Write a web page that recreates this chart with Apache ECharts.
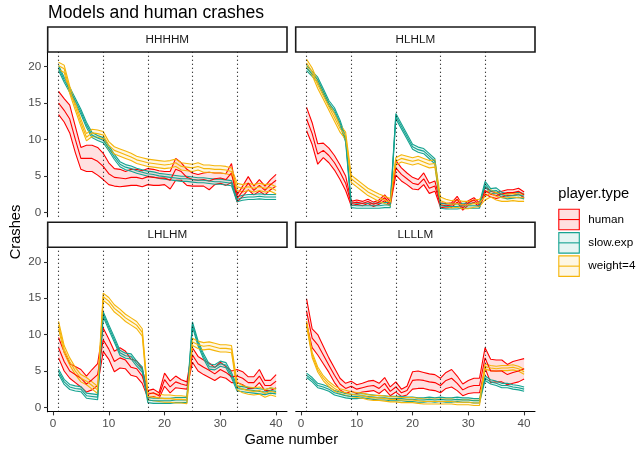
<!DOCTYPE html>
<html><head><meta charset="utf-8">
<script src="https://cdn.jsdelivr.net/npm/echarts@6/dist/echarts.min.js"></script>
<style>html,body{margin:0;padding:0;background:#fff}#c{width:636px;height:450px}</style>
</head><body><div id="c"></div>
<script>
// ---------- data ----------
const games = [1,2,3,4,5,6,7,8,9,10,11,12,13,14,15,16,17,18,19,20,21,22,23,24,25,26,27,28,29,30,31,32,33,34,35,36,37,38,39,40];
const panels = ['HHHHM','HLHLM','LHLHM','LLLLM'];
const playerTypes = ['human','slow.exp','weight=4'];
const vlines = [1,9,17,25,33];
const xTicks = [0,10,20,30,40];
const yTicks = [0,5,10,15,20];

// HHHHM
const hhhhmHumanMid = [15.0,14.0,12.8,10.0,7.4,7.4,7.4,7.0,6.3,5.3, 4.8,4.7,4.6,4.8,4.8,4.6,4.9,4.8,4.7,4.7, 4.4,5.9,5.6,4.8,4.5,4.4,4.5,4.3,4.6,4.7, 4.5,5.4,1.9,2.9,4.0,3.0,3.7,3.0,3.8,4.4];
const hhhhmHumanSe  = [1.6,1.6,1.9,1.8,1.5,1.8,1.8,1.9,1.8,1.5, 1.2,1.2,1.0,1.1,1.1,1.1,1.1,1.1,1.0,0.9, 1.2,1.5,1.2,1.1,0.9,0.8,0.9,1.2,0.8,0.7, 0.8,1.3,0.5,0.7,0.9,0.6,0.8,0.6,0.7,0.8];
const hhhhmSlowMid  = [19.8,18.2,16.8,15.3,13.8,12.0,10.6,10.2,9.9,8.8, 7.6,6.6,6.2,6.0,5.7,5.5,5.3,5.2,5.0,4.9, 4.8,4.7,4.6,4.6,4.5,4.4,4.4,4.3,4.2,4.2, 4.1,4.0,1.8,2.0,2.1,2.1,2.2,2.1,2.1,2.1];
const hhhhmW4Mid    = [20.1,19.7,16.8,14.5,12.3,10.3,10.9,10.8,10.6,9.2, 8.5,8.2,7.9,7.6,7.2,7.0,6.8,6.7,6.6,6.5, 6.6,6.8,6.3,6.2,6.1,6.3,6.0,6.0,5.9,5.9, 5.8,5.6,3.5,3.3,3.5,3.3,3.5,3.3,3.4,3.0];
// HLHLM
const hlhlmHumanMid = [12.8,10.8,8.0,8.5,7.8,6.8,5.5,4.0,1.2,1.4, 1.2,1.5,1.1,1.4,2.0,1.2,6.1,5.2,4.6,4.0, 3.8,4.6,3.3,3.6,1.0,0.9,1.0,1.8,0.6,1.3, 1.7,1.0,3.0,2.5,2.3,2.5,2.7,2.7,2.9,2.4];
const hlhlmHumanSe  = [1.6,1.5,1.4,1.0,1.0,1.0,1.0,1.0,0.3,0.3, 0.3,0.3,0.3,0.3,0.4,0.3,1.0,0.9,0.8,0.8, 0.7,0.8,0.7,0.7,0.3,0.3,0.3,0.4,0.3,0.3, 0.3,0.3,0.5,0.4,0.4,0.4,0.4,0.4,0.4,0.4];
const hlhlmSlowMid  = [19.8,19.0,18.2,16.6,15.0,14.0,12.3,10.0,1.0,0.9, 0.9,0.9,0.9,0.9,1.0,1.0,13.2,11.8,10.4,9.0, 8.6,8.4,7.7,7.0,0.9,0.8,0.8,0.8,0.9,0.9, 0.9,0.9,3.9,2.9,3.0,2.4,2.2,2.3,2.4,2.2];
const hlhlmW4Mid    = [20.5,19.3,17.5,16.0,14.5,13.0,11.5,10.5,4.6,4.0, 3.4,2.8,2.4,2.0,1.7,1.4,7.0,7.4,7.2,7.0, 7.2,6.9,6.6,6.7,1.6,1.3,1.1,1.2,1.0,1.0, 1.2,1.3,2.2,2.6,2.2,2.0,2.0,2.1,2.0,2.0];
// LHLHM
const lhlhmHumanMid = [8.2,6.3,5.0,4.5,4.0,3.2,3.8,4.5,9.3,8.0, 6.3,6.8,6.5,5.5,5.3,4.3,1.8,2.0,1.6,3.8, 2.8,3.5,3.2,3.0,7.2,6.0,5.5,5.1,4.6,5.2, 4.8,4.2,4.3,4.0,3.4,3.4,4.3,3.0,3.0,3.6];
const lhlhmHumanSe  = [1.4,1.3,1.0,1.1,1.2,1.1,1.4,1.5,1.6,1.4, 1.4,1.4,1.2,1.1,1.1,1.0,0.5,0.5,0.4,0.9, 0.8,0.8,0.6,0.5,1.0,1.0,1.0,1.0,0.9,1.0, 0.8,0.8,0.9,0.9,0.8,0.8,0.9,0.7,0.7,0.9];
const lhlhmSlowMid  = [4.9,3.5,2.8,2.6,2.5,1.6,1.5,1.4,12.8,11.0, 9.3,7.5,7.1,7.0,6.0,5.2,1.0,0.9,0.9,0.9, 0.9,1.0,1.0,1.0,11.4,8.8,7.0,5.6,5.5,6.0, 5.8,4.4,2.6,2.5,2.4,2.3,2.2,2.1,2.3,2.2];
const lhlhmW4Mid    = [11.3,8.0,6.3,5.0,4.0,3.6,3.0,2.4,15.2,14.6, 13.6,13.0,12.3,11.8,11.3,10.3,1.5,1.4,1.3,1.2, 1.2,1.1,1.1,1.0,9.0,8.6,8.4,8.5,8.3,8.1, 8.1,8.0,2.9,2.5,2.3,2.2,2.3,1.9,2.2,2.0];
// LLLLM
const llllmHumanMid = [13.2,9.5,8.6,7.2,5.8,4.4,3.2,2.6,2.9,2.5, 2.7,2.9,3.0,2.6,3.3,2.2,2.8,2.0,2.3,3.7, 3.8,3.7,3.5,3.4,3.0,3.7,4.0,3.3,2.4,2.8, 3.0,3.0,6.8,5.0,5.0,5.0,4.5,4.8,5.0,5.3];
const llllmHumanSe  = [1.7,1.3,1.4,1.2,1.0,1.0,0.8,0.7,0.7,0.6, 0.6,0.7,0.7,0.7,0.8,0.6,0.7,0.5,0.6,1.2, 1.2,1.1,1.1,1.1,1.0,1.1,1.2,1.0,0.8,0.9, 1.0,1.0,1.4,1.6,1.5,1.5,1.4,1.5,1.5,1.4];
const llllmSlowMid  = [4.4,3.8,3.0,2.8,2.5,2.0,1.8,1.6,1.5,1.5, 1.6,1.5,1.4,1.3,1.3,1.2,1.2,1.2,1.1,1.1, 1.0,1.0,1.1,1.0,1.1,1.0,1.0,1.1,1.0,1.0, 0.9,0.9,4.0,3.5,3.3,3.0,3.0,2.8,2.7,2.5];
const llllmW4Mid    = [11.5,7.2,5.2,4.0,3.2,2.6,2.2,2.0,1.8,1.7, 1.6,1.4,1.3,1.3,1.2,1.1,1.1,1.0,1.0,1.0, 0.9,0.8,0.8,0.8,0.8,0.8,0.8,0.7,0.7,0.7, 0.6,0.6,5.6,5.4,5.3,5.4,5.4,5.5,5.3,4.9];
// half-width of the model ribbons, per panel
const slowHalfWidth = [0.35,0.35,0.35,0.3];
const w4HalfWidth   = [0.5,0.5,0.5,0.35];

// ---------- build ----------
const panelData = [
  {mid:[hhhhmHumanMid,hhhhmSlowMid,hhhhmW4Mid], se:hhhhmHumanSe},
  {mid:[hlhlmHumanMid,hlhlmSlowMid,hlhlmW4Mid], se:hlhlmHumanSe},
  {mid:[lhlhmHumanMid,lhlhmSlowMid,lhlhmW4Mid], se:lhlhmHumanSe},
  {mid:[llllmHumanMid,llllmSlowMid,llllmW4Mid], se:llllmHumanSe}
];
const colors = ['#FF0000','#16A391','#F5B50A'];
const fills = ['rgba(255,0,0,0.12)','rgba(22,163,145,0.11)','rgba(245,181,10,0.11)'];
const FONT = 'Liberation Sans, Arial, sans-serif';

const grids = [
  {left:47.7, top:52, width:239.3, height:164.7},
  {left:295.7, top:52, width:239.3, height:164.7},
  {left:47.7, top:247.3, width:239.3, height:164.4},
  {left:295.7, top:247.3, width:239.3, height:164.4}
];

const xAxes = [], yAxes = [], series = [], graphics = [];
grids.forEach((g, i) => {
  const showX = i >= 2, showY = (i % 2) === 0;
  xAxes.push({
    gridIndex:i, type:'value', min:-0.95, max:41.95,
    splitLine:{show:false},
    axisLine:{show:showX, onZero:false, lineStyle:{color:'#000', width:1.07}},
    axisTick:{show:showX, length:3.67, customValues:xTicks, lineStyle:{color:'#333', width:1.07}},
    axisLabel:{show:showX, customValues:xTicks, color:'#4D4D4D', fontSize:11.7, margin:6.4, fontFamily:FONT}
  });
  yAxes.push({
    gridIndex:i, type:'value', min:-0.6, max:22.0,
    splitLine:{show:false},
    axisLine:{show:showY, onZero:false, lineStyle:{color:'#000', width:1.07}},
    axisTick:{show:showY, length:3.67, customValues:yTicks, lineStyle:{color:'#333', width:1.07}},
    axisLabel:{show:showY, customValues:yTicks, color:'#4D4D4D', fontSize:11.7, margin:6.4, fontFamily:FONT}
  });
  const pd = panelData[i];
  const halfW = [pd.se, games.map(() => slowHalfWidth[i]), games.map(() => w4HalfWidth[i])];
  for (let t = 0; t < 3; t++) {
    const mid = pd.mid[t], hw = halfW[t];
    const lo = mid.map((m, k) => +(m - hw[k]).toFixed(3));
    const hi = mid.map((m, k) => +(m + hw[k]).toFixed(3));
    // ribbon fill drawn through the axes' coordinate mapping
    series.push({
      type:'custom', xAxisIndex:i, yAxisIndex:i, silent:true, z:1,
      data:[[games[0], lo[0]]],
      renderItem:(params, api) => {
        const pts = [];
        for (let k = 0; k < games.length; k++) pts.push(api.coord([games[k], lo[k]]));
        for (let k = games.length - 1; k >= 0; k--) pts.push(api.coord([games[k], hi[k]]));
        return {type:'polygon', shape:{points:pts}, style:{fill:fills[t], stroke:null}};
      }
    });
    const lowerSeries = {
      type:'line', xAxisIndex:i, yAxisIndex:i, symbol:'none', silent:true,
      lineStyle:{color:colors[t], width:1.1}, z:2,
      data: games.map((x, k) => [x, lo[k]])
    };
    if (t === 0) {
      lowerSeries.markLine = {
        silent:true, symbol:['none','none'], label:{show:false}, animation:false,
        lineStyle:{color:'#000', type:[1,3], width:1.1},
        data: vlines.map(v => ({xAxis:v}))
      };
    }
    series.push(lowerSeries);
    series.push({
      type:'line', xAxisIndex:i, yAxisIndex:i, symbol:'none', silent:true,
      lineStyle:{color:colors[t], width:1.1}, z:2,
      data: games.map((x, k) => [x, hi[k]])
    });
  }
  for (let t = 0; t < 3; t++) {
    series.push({
      type:'line', xAxisIndex:i, yAxisIndex:i, symbol:'none', silent:true,
      lineStyle:{color:colors[t], width:1.1}, z:3,
      data: games.map((x, k) => [x, pd.mid[t][k]])
    });
  }
  graphics.push({type:'rect', shape:{x:g.left, y:g.top - 25, width:g.width, height:25},
    style:{fill:'#fff', stroke:'#1A1A1A', lineWidth:1.6}, z:10});
  graphics.push({type:'text', x:g.left + g.width / 2, y:g.top - 12.5, z:11,
    style:{text:panels[i], fill:'#1A1A1A', font:'11.7px ' + FONT, align:'center', verticalAlign:'middle'}});
});

graphics.push({type:'text', x:48, y:13, style:{text:'Models and human crashes', fill:'#000', font:'17.6px ' + FONT, align:'left', verticalAlign:'middle'}});
graphics.push({type:'text', x:291.3, y:440, style:{text:'Game number', fill:'#000', font:'14.67px ' + FONT, align:'center', verticalAlign:'middle'}});
graphics.push({type:'text', x:16, y:232, rotation:Math.PI / 2, style:{text:'Crashes', fill:'#000', font:'14.67px ' + FONT, align:'center', verticalAlign:'middle'}});

graphics.push({type:'text', x:558.3, y:194, style:{text:'player.type', fill:'#000', font:'14.67px ' + FONT, align:'left', verticalAlign:'middle'}});
playerTypes.forEach((name, t) => {
  const y0 = 209.3 + t * 23.3;
  graphics.push({type:'rect', shape:{x:558.8, y:y0, width:20.5, height:20.5},
    style:{fill:fills[t], stroke:colors[t], lineWidth:1.1}});
  graphics.push({type:'line', shape:{x1:558.8, y1:y0 + 10.25, x2:579.3, y2:y0 + 10.25},
    style:{stroke:colors[t], lineWidth:1.1}});
  graphics.push({type:'text', x:588.3, y:y0 + 10.25, style:{text:name, fill:'#000', font:'11.7px ' + FONT, align:'left', verticalAlign:'middle'}});
});

const chart = echarts.init(document.getElementById('c'), null, {renderer:'canvas'});
chart.setOption({
  backgroundColor:'#fff',
  animation:false,
  grid: grids,
  xAxis: xAxes,
  yAxis: yAxes,
  series: series,
  graphic: graphics
});
</script>
</body></html>
